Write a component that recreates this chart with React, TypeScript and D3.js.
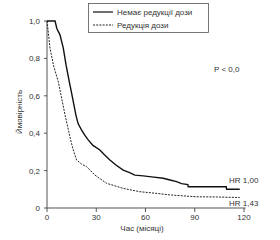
import React from "react";
import * as d3 from "d3";

const noRedMonths = [0, 4.9, 6, 7.9, 9.9, 11.6, 13.6, 15.6, 17.6, 19, 21.1, 23, 25.1, 28, 32.2, 35, 38.3, 42, 46.4, 50, 53.5, 58.6, 65, 70.8, 75, 78.9, 82, 85.8, 86, 109.2, 109.4, 117.4];
const noRedValues = [1, 1, 0.96, 0.926, 0.856, 0.765, 0.674, 0.588, 0.497, 0.45, 0.417, 0.39, 0.364, 0.335, 0.31, 0.285, 0.257, 0.23, 0.203, 0.19, 0.176, 0.172, 0.165, 0.159, 0.15, 0.141, 0.13, 0.125, 0.114, 0.114, 0.1, 0.1];

const redMonths = [0, 0.3, 1.8, 3.9, 6.9, 8.9, 11, 12.7, 14.4, 16, 18, 21, 24.1, 29.2, 36.3, 46.4, 56.6, 62.7, 74.8, 91, 103, 117.4];
const redValues = [1, 0.979, 0.856, 0.765, 0.674, 0.588, 0.497, 0.43, 0.364, 0.31, 0.257, 0.235, 0.221, 0.176, 0.132, 0.105, 0.087, 0.082, 0.07, 0.06, 0.059, 0.056];

const xTicks = [0, 30, 60, 90, 120];
const yTicks = [0, 0.2, 0.4, 0.6, 0.8, 1.0];
const legendLabels = ["Немає редукції дози", "Редукція дози"];
const hrLabels = ["HR 1,00", "HR 1,43"];
const pLabel = "P < 0,0";
const xTitle = "Час (місяці)";
const yTitle = "Ймовірність";

export default function App() {
  const x = d3.scaleLinear().domain([0, 120]).range([47, 244]);
  const y = d3.scaleLinear().domain([0, 1]).range([208, 21]);
  const line = d3
    .line<[number, number]>()
    .x((d) => x(d[0]))
    .y((d) => y(d[1]));
  const solid = line(noRedMonths.map((m, i) => [m, noRedValues[i]] as [number, number]));
  const dashed = line(redMonths.map((m, i) => [m, redValues[i]] as [number, number]));
  const font = "Liberation Sans, Arial, sans-serif";
  const txt = "#333";
  return (
    <svg
      width={280}
      height={240}
      style={{ position: "absolute", left: 0, top: 0, background: "#fff" }}
      fontFamily={font}
    >
      {/* axes */}
      <line x1={47} x2={47} y1={y(1)} y2={208} stroke="#555" strokeWidth={1} />
      <line x1={47} x2={x(121)} y1={208} y2={208} stroke="#555" strokeWidth={1} />
      {yTicks.map((t) => (
        <g key={"y" + t}>
          <line x1={44} x2={47} y1={y(t)} y2={y(t)} stroke="#555" />
          <text x={40} y={y(t) + 3} fontSize={8} textAnchor="end" fill={txt}>
            {t === 0 ? "0" : t.toFixed(1).replace(".", ",")}
          </text>
        </g>
      ))}
      {xTicks.map((t) => (
        <g key={"x" + t}>
          <line x1={x(t)} x2={x(t)} y1={208} y2={212} stroke="#555" />
          <text x={x(t)} y={220} fontSize={8} textAnchor="middle" fill={txt}>
            {t}
          </text>
        </g>
      ))}
      <text x={142} y={231} fontSize={8} textAnchor="middle" fill={txt}>
        {xTitle}
      </text>
      <text
        transform={`translate(22,112) rotate(-90)`}
        fontSize={8}
        textAnchor="middle"
        fill={txt}
      >
        {yTitle}
      </text>
      {/* curves */}
      <path d={dashed ?? ""} fill="none" stroke="#222" strokeWidth={1} strokeDasharray="2,1.2" />
      <path d={solid ?? ""} fill="none" stroke="#111" strokeWidth={1.4} />
      {/* labels */}
      <text x={229} y={183} fontSize={8} fill={txt}>
        {hrLabels[0]}
      </text>
      <text x={229} y={206} fontSize={8} fill={txt}>
        {hrLabels[1]}
      </text>
      <text x={214} y={72} fontSize={8} fill={txt}>
        {pLabel}
      </text>
      {/* legend */}
      <rect x={88.5} y={3.5} width={120} height={29} fill="#fff" stroke="#555" strokeWidth={0.8} />
      <line x1={93} x2={113} y1={12} y2={12} stroke="#111" strokeWidth={1.2} />
      <line x1={93} x2={113} y1={25} y2={25} stroke="#222" strokeWidth={1} strokeDasharray="2,1.2" />
      <text x={117} y={15} fontSize={8} fill={txt}>
        {legendLabels[0]}
      </text>
      <text x={117} y={28} fontSize={8} fill={txt}>
        {legendLabels[1]}
      </text>
    </svg>
  );
}
